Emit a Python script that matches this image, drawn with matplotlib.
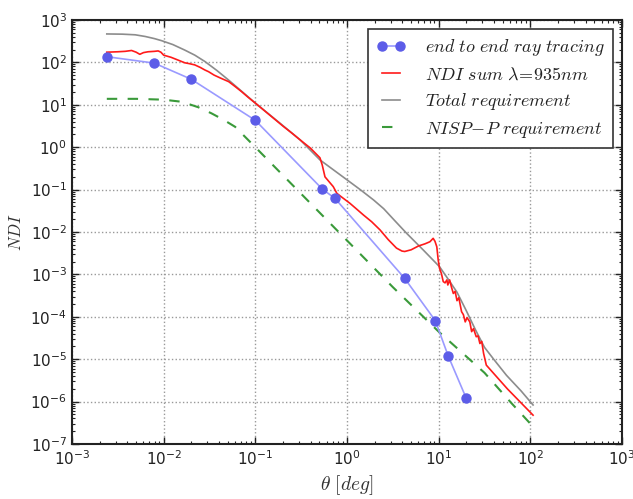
import numpy as np
import matplotlib
matplotlib.use("Agg")
import matplotlib.pyplot as plt
from matplotlib.ticker import LogLocator, NullFormatter

plt.rcParams['mathtext.fontset'] = 'cm'
plt.rcParams['font.family'] = ['DejaVu Sans']

# end to end ray tracing (theta [deg], NDI)
ray_theta = [0.0024, 0.0079, 0.020, 0.10, 0.54, 0.74, 4.25, 9.2, 12.7, 20.0]
ray_ndi = [136, 96, 40, 4.3, 0.102, 0.062, 8.1e-4, 8.1e-5, 1.2e-5, 1.2e-6]

# NDI sum lambda=935nm (log10 theta, log10 NDI)
red_logx = [-2.62, -2.50, -2.42, -2.35, -2.30, -2.26, -2.22, -2.17, -2.10, -2.06, -2.03, -2.00,
            -1.92, -1.85, -1.77, -1.72, -1.66, -1.60, -1.55, -1.51, -1.45, -1.38, -1.29, -1.22,
            -1.15, -1.08, -1.00, -0.90, -0.80, -0.70, -0.60, -0.51, -0.40, -0.295, -0.27,
            -0.24, -0.15, -0.11, -0.05, 0.03, 0.10, 0.18, 0.27, 0.36, 0.45, 0.54, 0.60, 0.63,
            0.70, 0.78, 0.85, 0.905, 0.94, 0.96, 0.98, 0.995, 1.01, 1.03, 1.05, 1.07, 1.09,
            1.10, 1.12, 1.14, 1.16, 1.18, 1.20, 1.22, 1.25, 1.27, 1.29, 1.31, 1.34, 1.36,
            1.38, 1.41, 1.43, 1.45, 1.47, 1.49, 1.52, 1.75, 2.03]
red_logy = [2.24, 2.25, 2.26, 2.28, 2.24, 2.19, 2.23, 2.25, 2.26, 2.27, 2.24, 2.17,
            2.12, 2.06, 1.99, 1.97, 1.94, 1.88, 1.82, 1.78, 1.70, 1.63, 1.545, 1.43,
            1.31, 1.18, 1.04, 0.86, 0.68, 0.50, 0.33, 0.17, -0.02, -0.25, -0.42,
            -0.70, -0.93, -1.09, -1.19, -1.32, -1.45, -1.60, -1.76, -1.95, -2.18, -2.38, -2.45, -2.46,
            -2.42, -2.33, -2.28, -2.23, -2.15, -2.22, -2.35, -2.66, -2.86, -2.98, -3.17, -3.20, -3.13,
            -3.25, -3.13, -3.30, -3.45, -3.40, -3.62, -3.55, -3.88, -3.95, -4.12, -4.02, -4.12, -4.35,
            -4.28, -4.47, -4.45, -4.63, -4.58, -4.86, -5.14, -5.70, -6.32]

# Total requirement (log10 theta, log10 NDI)
gray_logx = [-2.62, -2.45, -2.31, -2.20, -2.10, -2.02, -1.90, -1.77, -1.66, -1.55, -1.42, -1.29,
             -1.15, -1.00, -0.75, -0.51, -0.295, 0.00, 0.15, 0.29, 0.40, 0.52, 0.65, 0.83,
             1.01, 1.10, 1.20, 1.30, 1.40, 1.50, 1.60, 1.74, 1.90, 2.03]
gray_logy = [2.67, 2.665, 2.65, 2.61, 2.56, 2.51, 2.42, 2.29, 2.17, 2.02, 1.81, 1.58,
             1.32, 1.04, 0.60, 0.17, -0.30, -0.77, -1.01, -1.245, -1.45, -1.73, -2.03, -2.42,
             -2.82, -3.10, -3.42, -3.85, -4.30, -4.72, -5.00, -5.38, -5.75, -6.08]

# NISP-P requirement (log10 theta, log10 NDI)
green_logx = [-2.62, -2.30, -2.00, -1.80, -1.62, -1.48, -1.35, -1.22, -1.00, -0.50, 0.00,
              0.50, 1.00, 1.50, 1.80, 2.00]
green_logy = [1.14, 1.14, 1.12, 1.07, 0.94, 0.80, 0.65, 0.48, 0.00, -1.10, -2.20,
              -3.30, -4.35, -5.32, -6.05, -6.52]

labels = [r'$end\ to\ end\ ray\ tracing$', r'$NDI\ sum\ \lambda\!=\!935nm$',
          r'$Total\ requirement$', r'$NISP\!-\!P\ requirement$']

fig = plt.figure(figsize=(6.33, 4.99), dpi=100)
ax = fig.add_axes([0.1137, 0.1102, 0.8689, 0.8498])

ax.plot(ray_theta, ray_ndi, '-o', color='#9a9aff', lw=1.2, ms=6.5,
        markerfacecolor='#5c5ce8', markeredgecolor='#5c5ce8', label=labels[0], zorder=4)
ax.plot(10 ** np.array(red_logx), 10 ** np.array(red_logy), '-', color='#ff1a1a', lw=1.2,
        label=labels[1], zorder=3)
ax.plot(10 ** np.array(gray_logx), 10 ** np.array(gray_logy), '-', color='#8c8c8c', lw=1.2,
        label=labels[2], zorder=2)
ax.plot(10 ** np.array(green_logx), 10 ** np.array(green_logy), '--', color='#3a9a3a', lw=1.5,
        dashes=(5, 5), label=labels[3], zorder=2)

ax.set_xscale('log')
ax.set_yscale('log')
ax.set_xlim(1e-3, 1e3)
ax.set_ylim(1e-7, 1e3)
ax.xaxis.set_major_locator(LogLocator(base=10, numticks=20))
ax.yaxis.set_major_locator(LogLocator(base=10, numticks=20))
ax.xaxis.set_minor_locator(LogLocator(base=10, subs=np.arange(2, 10), numticks=20))
ax.yaxis.set_minor_locator(LogLocator(base=10, subs=np.arange(2, 10), numticks=20))
ax.xaxis.set_minor_formatter(NullFormatter())
ax.yaxis.set_minor_formatter(NullFormatter())

ax.tick_params(which='both', direction='in', top=True, right=True, labelsize=11, colors='#222222')
ax.tick_params(which='major', length=5, width=1)
ax.tick_params(which='minor', length=2.5, width=0.8)
for s in ax.spines.values():
    s.set_linewidth(1.5)
    s.set_color('#222222')
ax.grid(True, which='major', linestyle=':', color='#999999', lw=1)

ax.set_xlabel(r'$\theta\ [deg]$', fontsize=14, color='#333333')
ax.set_ylabel(r'$NDI$', fontsize=12, color='#333333')

leg = ax.legend(loc='upper right', fontsize=13, numpoints=2, fancybox=False,
                framealpha=1, edgecolor='#333333', handlelength=1.6, handletextpad=1.1,
                borderpad=0.45, labelspacing=0.42, borderaxespad=0,
                bbox_to_anchor=(0.9836, 0.979))
leg.get_frame().set_linewidth(1.2)
for t in leg.get_texts():
    t.set_color('#222222')

fig.savefig('out.png', dpi=100)
